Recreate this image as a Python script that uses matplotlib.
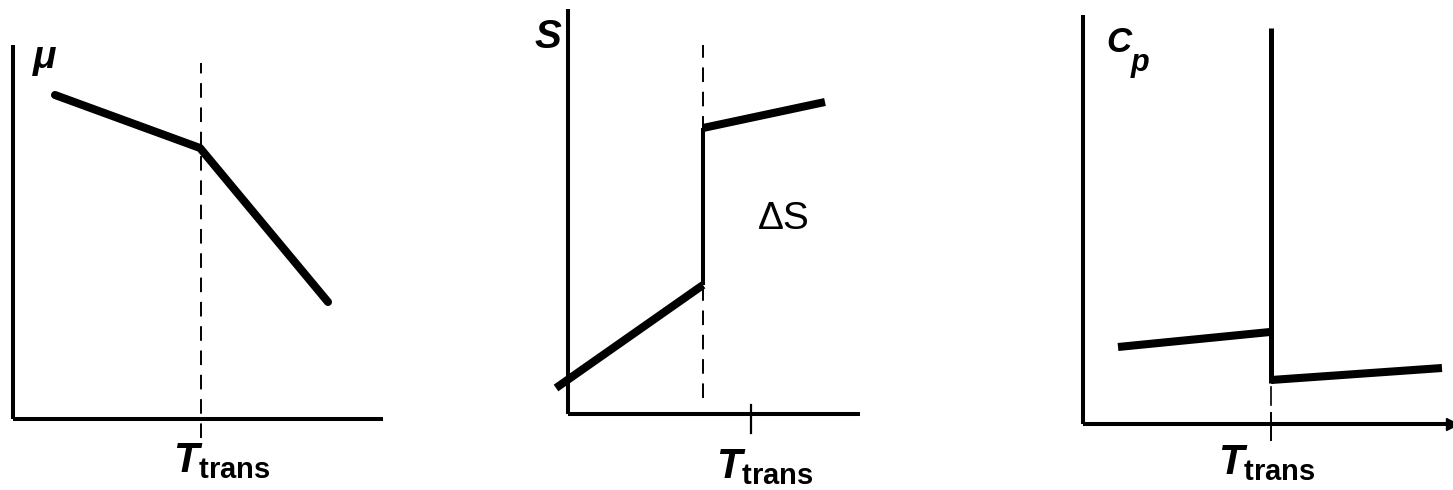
import matplotlib
matplotlib.use("Agg")
import matplotlib.pyplot as plt

plt.rcParams["font.family"] = "Liberation Sans"
plt.rcParams["mathtext.fontset"] = "custom"
plt.rcParams["mathtext.it"] = "Liberation Sans:italic:bold"
plt.rcParams["mathtext.rm"] = "Liberation Sans:bold"
plt.rcParams["mathtext.bf"] = "Liberation Sans:bold"

# chemical potential: two straight branches meeting at the transition
mu_T = [42, 187, 315]
mu_val = [324, 271, 117]
mu_T_trans = 188

# entropy: jump of size delta S at the transition
s_T_low = [-12, 135]
s_low = [26, 129]
s_T_high = [135, 257]
s_high = [286, 312]
s_T_trans = 135
s_T_tick = 183

# heat capacity: spike at the transition
cp_T_low = [35, 187]
cp_low = [77, 92]
cp_T_high = [188, 359]
cp_high = [44, 56]
cp_T_trans = 188
cp_spike_top = 396

W, H = 1453, 490
THICK = 5.8
AXLW = 2.9

fig = plt.figure(figsize=(W / 100, H / 100), dpi=100)


def panel(x0, y0, w, h):
    # origin given in pixels from the top-left corner; data units are pixels
    ax = fig.add_axes([x0 / W, (H - y0) / H, w / W, h / H])
    ax.set_xlim(0, w)
    ax.set_ylim(0, h)
    for side in ("top", "right"):
        ax.spines[side].set_visible(False)
    for side in ("left", "bottom"):
        ax.spines[side].set_linewidth(AXLW)
        ax.spines[side].set_capstyle("butt")
    ax.set_xticks([])
    ax.set_yticks([])
    ax.patch.set_alpha(0)
    return ax


label_kw = dict(ha="center", va="center", clip_on=False)
bold_it = dict(fontstyle="italic", fontweight="bold")
dash = (0, (7.5, 5))

# --- mu(T)
ax1 = panel(13, 419, 370, 374)
ax1.plot(mu_T, mu_val, color="black", lw=THICK, solid_capstyle="round",
         solid_joinstyle="round", clip_on=False)
ax1.plot([mu_T_trans, mu_T_trans], [-19, 356], color="black", lw=1.4,
         linestyle=dash, clip_on=False)
ax1.text(32, 361, "μ", fontsize=28, **bold_it, **label_kw)
ax1.text(209, -42, r"$T_{\mathrm{trans}}$", fontsize=30, **label_kw)

# --- S(T)
ax2 = panel(568, 414, 292, 405)
ax2.plot(s_T_low, s_low, color="black", lw=THICK, solid_capstyle="butt", clip_on=False)
ax2.plot(s_T_high, s_high, color="black", lw=THICK, solid_capstyle="butt", clip_on=False)
ax2.plot([s_T_trans, s_T_trans], [s_low[-1], s_high[0]], color="black", lw=2.9,
         solid_capstyle="butt", clip_on=False)
ax2.plot([s_T_trans, s_T_trans], [16, 369], color="black", lw=1.4,
         linestyle=dash, clip_on=False)
ax2.plot([s_T_tick, s_T_tick], [-19, 9], color="black", lw=1.6, clip_on=False)
ax2.text(216, 195, "ΔS", fontsize=28, **label_kw)
ax2.text(-20, 377, "S", fontsize=29, **bold_it, **label_kw)
ax2.text(197, -53, r"$T_{\mathrm{trans}}$", fontsize=30, **label_kw)

# --- Cp(T)
ax3 = panel(1083, 424, 369, 409)
ax3.plot(cp_T_low, cp_low, color="black", lw=THICK, solid_capstyle="butt", clip_on=False)
ax3.plot(cp_T_high, cp_high, color="black", lw=THICK, solid_capstyle="butt", clip_on=False)
ax3.plot([cp_T_trans, cp_T_trans], [cp_high[0] - 3, cp_spike_top], color="black",
         lw=3.6, solid_capstyle="butt", clip_on=False)
ax3.plot([cp_T_trans, cp_T_trans], [19, 37], color="black", lw=1.2, clip_on=False)
ax3.plot([cp_T_trans, cp_T_trans], [-16, 11], color="black", lw=1.4, clip_on=False)
ax3.plot([369], [0], marker=">", color="black", markersize=9, clip_on=False)
ax3.text(36, 382, "C", fontsize=25, **bold_it, **label_kw)
ax3.text(57, 361, "p", fontsize=22, **bold_it, **label_kw)
ax3.text(184, -39, r"$T_{\mathrm{trans}}$", fontsize=30, **label_kw)

fig.savefig("out.png", dpi=100)
